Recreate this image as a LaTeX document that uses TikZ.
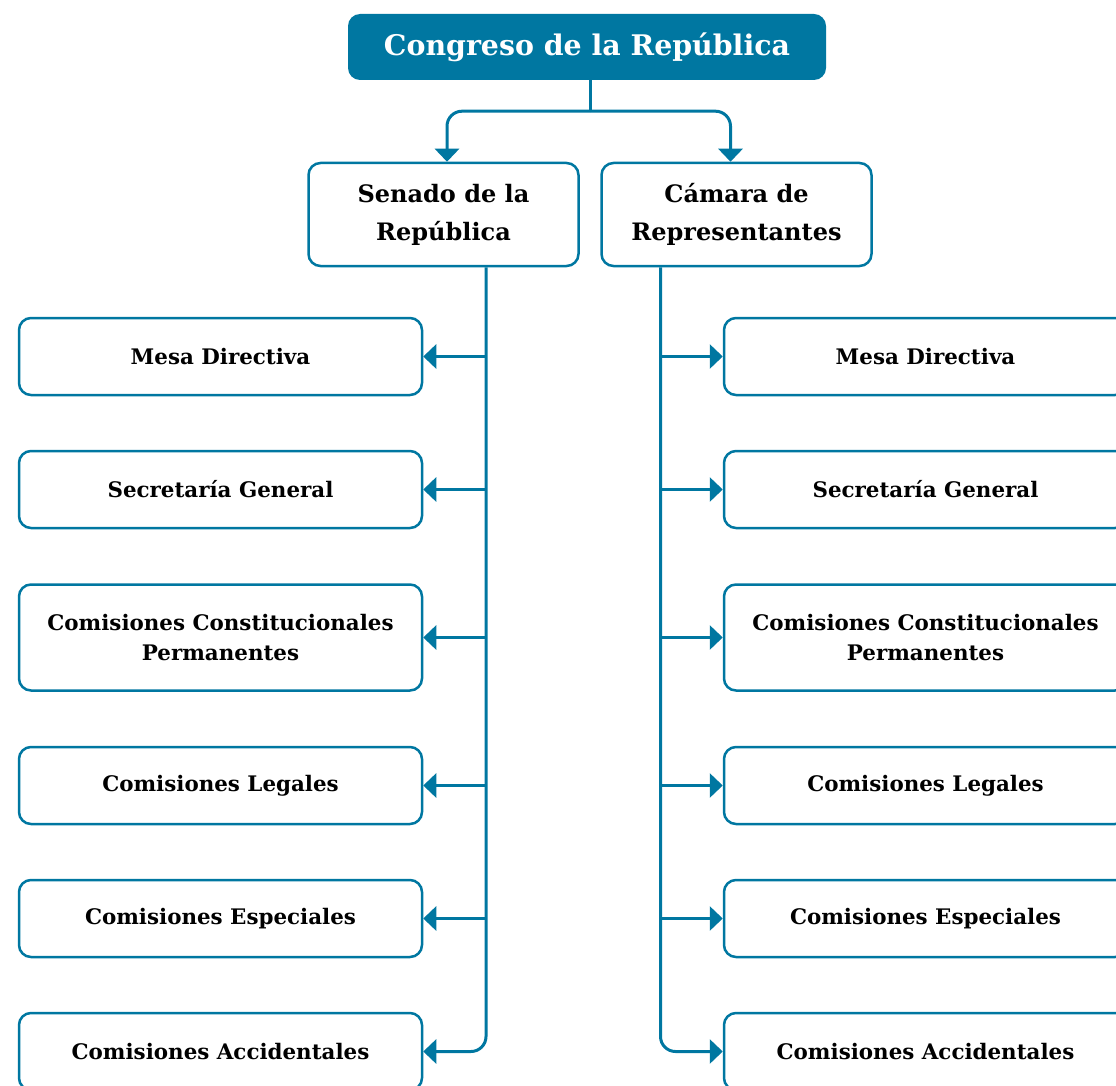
\documentclass[tikz,border=0pt]{standalone}
\usepackage{fontspec}
\setmainfont{DejaVu Serif}
\usetikzlibrary{positioning,arrows.meta}
\definecolor{azul}{RGB}{0,119,161}

\begin{document}
\begin{tikzpicture}[x=1pt,y=-1pt]
 \tikzstyle{box}=[rectangle,draw=azul,line width=2.5pt,rounded corners=12pt,minimum width=403pt,minimum height=77pt,inner sep=0,align=center,font=\bfseries\fontsize{21.4}{30}\selectfont]
 \tikzstyle{camara}=[box,minimum width=270pt,minimum height=103pt,font=\bfseries\fontsize{24}{38}\selectfont]
 \tikzstyle{titulo}=[rectangle,fill=azul,rounded corners=12pt,minimum width=478pt,minimum height=66pt,text=white,font=\bfseries\fontsize{28.4}{30}\selectfont]
 \tikzstyle{linea}=[draw=azul,line width=3pt,rounded corners=15pt]
 \tikzstyle{flecha}=[linea,-{Triangle[width=24pt,length=13pt]}]
 \useasboundingbox (0,0) rectangle (1116,1086);
  \node[titulo] (congreso) at (587,47) {Congreso de la República};
  \coordinate[below=31pt of congreso,xshift=3pt] (split);
  \node[camara] (senado) at (443.5,214.5) {Senado de la\\República};
  \node[camara] (camara) [right=20.5pt of senado] {Cámara de\\Representantes};
  % Senado
  \node[box] (mesaS) at (220.5,356.5) {Mesa Directiva};
  \node[box] (secS) [below=53.5pt of mesaS] {Secretaría General};
  \node[box,minimum height=106pt] (comS) [below=54pt of secS] {Comisiones Constitucionales\\Permanentes};
  \node[box] (legS) [below=54pt of comS] {Comisiones Legales};
  \node[box] (espS) [below=53.5pt of legS] {Comisiones Especiales};
  \node[box] (accS) [below=53.5pt of espS] {Comisiones Accidentales};
  % Camara
  \node[box] (mesaC) [right=299.5pt of mesaS] {Mesa Directiva};
  \node[box] (secC) [right=299.5pt of secS] {Secretaría General};
  \node[box,minimum height=106pt] (comC) [right=299.5pt of comS] {Comisiones Constitucionales\\Permanentes};
  \node[box] (legC) [right=299.5pt of legS] {Comisiones Legales};
  \node[box] (espC) [right=299.5pt of espS] {Comisiones Especiales};
  \node[box] (accC) [right=299.5pt of accS] {Comisiones Accidentales};
  \coordinate (troncoS) at ([xshift=42.5pt]senado.south);
  \coordinate (troncoC) at ([xshift=-76pt]camara.south);
\draw[linea] (split |- congreso.south) -- (split) ;
\draw[flecha] (split) -| ([xshift=3.5pt]senado.north) ;
\draw[flecha] (split) -| ([xshift=-6pt]camara.north) ;
\draw[flecha] (troncoS) |- (accS) ;
\draw[flecha] (troncoC) |- (accC) ;
\foreach \n in {mesa,sec,com,leg,esp} {
  \draw[flecha] (troncoS |- \n S) -- (\n S) ;
  \draw[flecha] (troncoC |- \n C) -- (\n C) ;
}
\end{tikzpicture}
\end{document}
